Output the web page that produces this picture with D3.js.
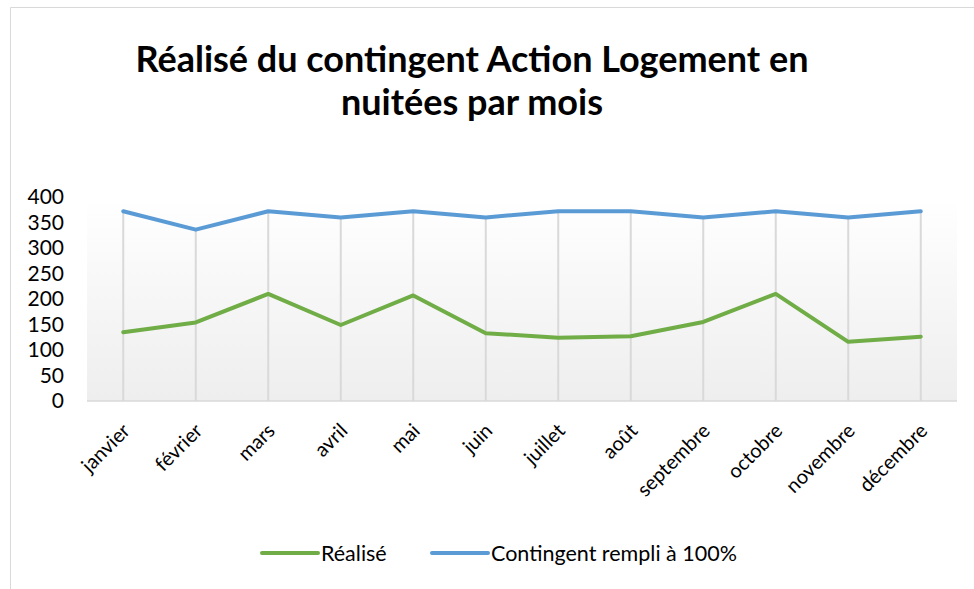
<!DOCTYPE html>
<html>
<head>
<meta charset="utf-8">
<script src="https://cdn.jsdelivr.net/npm/d3@7"></script>
<style>
  body { margin: 0; background: #fff; }
  svg { display: block; font-family: Lato, "Open Sans", sans-serif; }
</style>
</head>
<body>
<svg></svg>
<script>
const months = ["janvier", "février", "mars", "avril", "mai", "juin", "juillet", "août", "septembre", "octobre", "novembre", "décembre"];
const realise = [135, 154, 210, 149, 207, 133, 124, 127, 155, 210, 116, 126];
const contingent = [372, 336, 372, 360, 372, 360, 372, 372, 360, 372, 360, 372];
const yTicks = [0, 50, 100, 150, 200, 250, 300, 350, 400];
const seriesNames = ["Réalisé", "Contingent rempli à 100%"];
const titleLines = ["Réalisé du contingent Action Logement en", "nuitées par mois"];

const W = 974, H = 589;
const margin = { top: 197, right: 17, bottom: 188, left: 87 };
const width = W - margin.left - margin.right;
const height = H - margin.top - margin.bottom;

const svg = d3.select("svg").attr("width", W).attr("height", H);

// chart border (only left and top visible)
svg.append("path")
  .attr("d", `M10.5,${H} V7.5 H${W}`)
  .attr("fill", "none")
  .attr("stroke", "#d9d9d9")
  .attr("stroke-width", 1);

const defs = svg.append("defs");
const grad = defs.append("linearGradient")
  .attr("id", "plotbg").attr("x1", 0).attr("y1", 0).attr("x2", 0).attr("y2", 1);
grad.append("stop").attr("offset", "0%").attr("stop-color", "#ffffff");
grad.append("stop").attr("offset", "100%").attr("stop-color", "#eeeeee");

const g = svg.append("g").attr("transform", `translate(${margin.left},${margin.top})`);

g.append("rect")
  .attr("width", width).attr("height", height)
  .attr("fill", "url(#plotbg)");

const x = d3.scalePoint().domain(months).range([0, width]).padding(0.5);
const y = d3.scaleLinear().domain([0, 400]).range([height, 0]);

// drop lines from highest point down to axis
g.selectAll(".drop")
  .data(months)
  .enter().append("line")
  .attr("class", "drop")
  .attr("x1", d => x(d)).attr("x2", d => x(d))
  .attr("y1", (d, i) => y(Math.max(realise[i], contingent[i])))
  .attr("y2", y(0))
  .attr("stroke", "#d9d9d9")
  .attr("stroke-width", 2);

// x axis line
g.append("line")
  .attr("x1", 0).attr("x2", width)
  .attr("y1", y(0)).attr("y2", y(0))
  .attr("stroke", "#d9d9d9").attr("stroke-width", 1.5);

// y axis labels
const yAxis = d3.axisLeft(y).tickValues(yTicks).tickSize(0).tickPadding(23);
const yG = g.append("g").call(yAxis);
yG.select(".domain").remove();
yG.selectAll("text")
  .attr("font-size", 21)
  .attr("font-family", "Lato, sans-serif")
  .attr("fill", "#000");

// x labels rotated
g.selectAll(".xlab")
  .data(months)
  .enter().append("text")
  .attr("class", "xlab")
  .attr("transform", d => `translate(${x(d) + 8},${height + 31}) rotate(-45)`)
  .attr("text-anchor", "end")
  .attr("font-size", 20)
  .attr("fill", "#000")
  .text(d => d);

const line = d3.line().x((d, i) => x(months[i])).y(d => y(d));

const colors = ["#70ad47", "#5b9bd5"];
[realise, contingent].forEach((s, k) => {
  g.append("path")
    .datum(s)
    .attr("d", line)
    .attr("fill", "none")
    .attr("stroke", colors[k])
    .attr("stroke-width", 4)
    .attr("stroke-linecap", "round")
    .attr("stroke-linejoin", "round");
});

// title
svg.selectAll(".title")
  .data(titleLines)
  .enter().append("text")
  .attr("class", "title")
  .attr("x", 472)
  .attr("y", (d, i) => 72 + i * 43)
  .attr("text-anchor", "middle")
  .attr("font-size", 36)
  .attr("font-weight", "bold")
  .attr("fill", "#000")
  .text(d => d);

// legend
const legendItems = [
  { name: seriesNames[0], color: colors[0], x0: 262, x1: 318 },
  { name: seriesNames[1], color: colors[1], x0: 432, x1: 488 }
];
const lg = svg.append("g");
legendItems.forEach(it => {
  lg.append("line")
    .attr("x1", it.x0).attr("x2", it.x1)
    .attr("y1", 553).attr("y2", 553)
    .attr("stroke", it.color).attr("stroke-width", 4)
    .attr("stroke-linecap", "round");
  lg.append("text")
    .attr("x", it.x1 + 3).attr("y", 561)
    .attr("font-size", 21.5)
    .attr("fill", "#000")
    .text(it.name);
});
</script>
</body>
</html>
